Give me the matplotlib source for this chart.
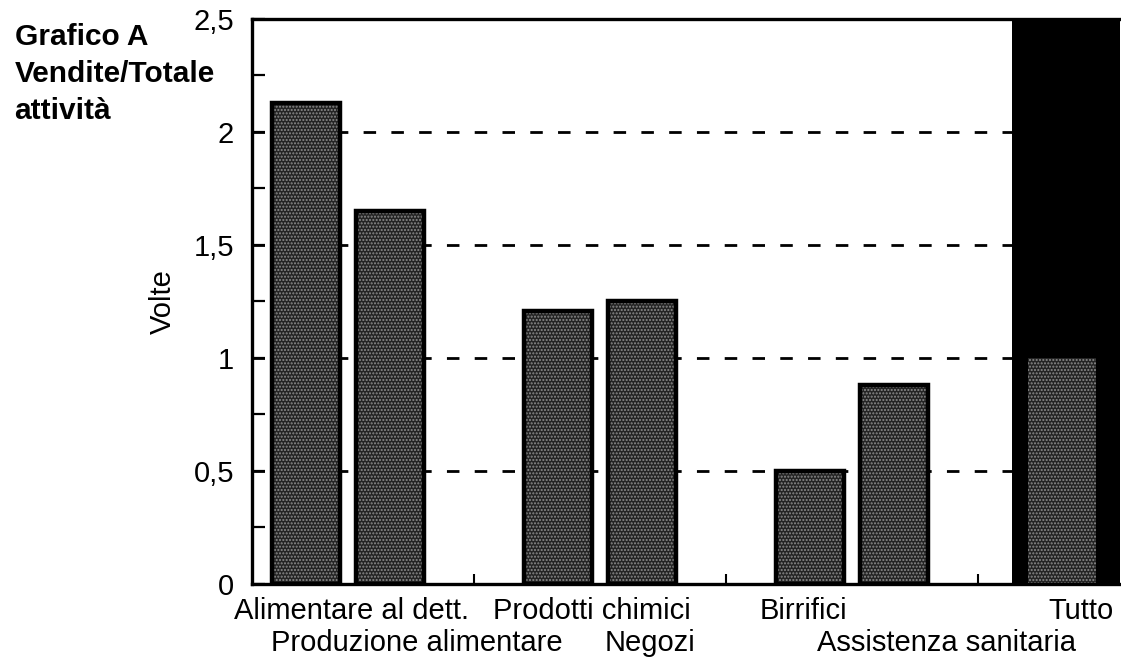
import matplotlib
matplotlib.use("Agg")
import matplotlib.pyplot as plt
from matplotlib.ticker import MultipleLocator, FixedLocator

plt.rcParams['font.family'] = ['Liberation Sans', 'DejaVu Sans']

# ---- data ----
categories = ["Alimentare al dett.", "Produzione alimentare",
              "Prodotti chimici", "Negozi",
              "Birrifici", "Assistenza sanitaria",
              "Tutto"]
values = [2.13, 1.65, 1.21, 1.25, 0.50, 0.88, 1.00]
y_ticks = [0, 0.5, 1, 1.5, 2, 2.5]
y_tick_labels = ["0", "0,5", "1", "1,5", "2", "2,5"]
title_lines = ["Grafico A", "Vendite/Totale", "attività"]
y_label = "Volte"

# ---- layout ----
positions = [0, 1, 3, 4, 6, 7, 9]          # bars in pairs, gaps between groups
label_x = [0.54, 1.32, 3.40, 4.10, 5.92, 7.63, 9.23]
label_row = [0, 1, 0, 1, 0, 1, 0]
group_ticks = [2, 5, 8]
band_start = 8.40
xlim = (-0.643, 9.69)

fig = plt.figure(figsize=(11.21, 6.63), dpi=100)
ax = fig.add_axes([0.2248, 0.1192, 0.7743, 0.8522])
ax.set_xlim(*xlim)
ax.set_ylim(0, 2.5)

# black band for total
ax.axvspan(band_start, xlim[1], color='black', zorder=1, lw=0)

# dashed gridlines
for yv in [0.5, 1.0, 1.5, 2.0]:
    ax.axhline(yv, color='black', lw=2.0, dashes=(4.5, 5.5), zorder=0.5)

bar_w = 0.8
face = '#242424'
dots = '#8c8c8c'
ax.bar(positions, values, width=bar_w, color=face, edgecolor=dots,
       hatch='.....', linewidth=0, zorder=2)
ax.bar(positions[:-1], values[:-1], width=bar_w, fill=False,
       edgecolor='black', linewidth=3.2, zorder=3)

# spines
for s in ['left', 'bottom', 'top']:
    ax.spines[s].set_linewidth(2.4)
ax.spines['right'].set_visible(False)

# y ticks
ax.yaxis.set_major_locator(FixedLocator(y_ticks))
ax.set_yticklabels(y_tick_labels, fontsize=21)
ax.yaxis.set_minor_locator(MultipleLocator(0.25))
ax.tick_params(axis='y', which='both', direction='in', length=9, width=1.6, pad=13)

# x ticks (group separators)
ax.xaxis.set_major_locator(FixedLocator(group_ticks))
ax.set_xticklabels([])
ax.tick_params(axis='x', which='both', direction='in', length=7, width=1.5)

# category labels in two rows
for cat, xv, r in zip(categories, label_x, label_row):
    ax.text(xv, -0.058 - r * 0.142, cat, ha='center', va='top', fontsize=21,
            transform=ax.transData, clip_on=False)

ax.set_ylabel(y_label, fontsize=21, labelpad=12)

# title block
for i, line in enumerate(title_lines):
    fig.text(0.013, 1 - (45 + 37 * i) / 663, line, fontsize=21.5, fontweight='bold',
             ha='left', va='baseline')

fig.savefig("out.png", dpi=100)
